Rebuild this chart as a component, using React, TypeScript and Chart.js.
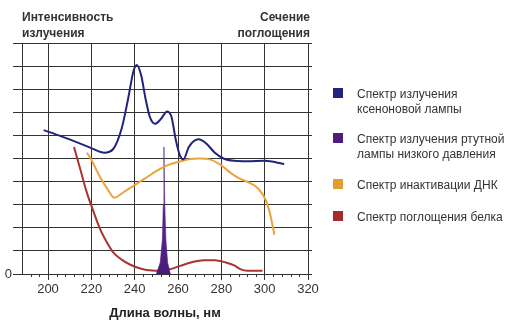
import React, { useEffect, useRef } from "react";
import { Chart, registerables } from "chart.js";

Chart.register(...registerables);

// Xenon lamp emission spectrum
const xenonX = [198, 205, 212, 220, 226, 230, 234, 237, 239.5, 241, 243, 245, 247, 249.5, 252, 255, 257, 259, 261, 262.5, 265, 269.5, 273, 277, 281, 286, 292, 300, 309];
const xenonY = [6.23, 6.0, 5.75, 5.45, 5.25, 5.4, 6.3, 7.6, 8.8, 9.05, 8.6, 7.6, 6.8, 6.5, 6.7, 7.03, 6.8, 5.8, 5.1, 4.96, 5.5, 5.83, 5.65, 5.25, 5.0, 4.9, 4.88, 4.9, 4.76];

// Low pressure mercury lamp emission line
const mercuryX = [250, 251.8, 252.8, 253.2, 253.5, 253.9, 254.4, 255.2, 256.5];
const mercuryY = [0, 0.5, 1.5, 3, 5.5, 3, 1.5, 0.5, 0];

// DNA inactivation spectrum
const dnaX = [218, 220, 224, 228, 230.5, 235, 240, 245, 250, 255, 260, 265, 270, 275, 280, 284, 288, 293, 297, 300.5, 302.5, 304.5];
const dnaY = [5.25, 4.95, 4.2, 3.6, 3.3, 3.55, 3.85, 4.15, 4.45, 4.7, 4.85, 4.97, 5.0, 4.95, 4.7, 4.4, 4.15, 3.95, 3.7, 3.2, 2.6, 1.7];

// Protein absorption spectrum
const proteinX = [212, 215, 218, 221, 224, 227, 230, 234, 238, 243, 248, 252, 256, 261, 266, 272, 277, 282, 286, 289, 292, 299];
const proteinY = [5.5, 4.5, 3.5, 2.7, 1.95, 1.4, 0.95, 0.62, 0.4, 0.23, 0.15, 0.14, 0.2, 0.35, 0.5, 0.6, 0.6, 0.5, 0.37, 0.2, 0.14, 0.14];

const xTickValues = [200, 220, 240, 260, 280, 300, 320];
const xMinorTicks = [192, 196, 204, 208, 212, 216, 224, 228, 232, 236, 244, 248, 252, 256, 264, 268, 272, 276, 284, 288, 292, 296, 304, 308, 312, 316];

const legendItems = [
  { color: "#22237a", lines: ["Спектр излучения", "ксеноновой лампы"] },
  { color: "#4f1c7e", lines: ["Спектр излучения ртутной", "лампы низкого давления"] },
  { color: "#e39c32", lines: ["Спектр инактивации ДНК"] },
  { color: "#a62c2c", lines: ["Спектр поглощения белка"] },
];

const FONT = "'Liberation Sans', Arial, sans-serif";

function pts(xs: number[], ys: number[]) {
  return xs.map((x, i) => ({ x, y: ys[i] }));
}

export default function App() {
  const ref = useRef<HTMLCanvasElement | null>(null);

  useEffect(() => {
    if (!ref.current) return;
    const minorPlugin = {
      id: "minorTicks",
      afterDraw(chart: any) {
        const { ctx, scales } = chart;
        const x = scales.x;
        const yb = scales.y.getPixelForValue(0);
        ctx.save();
        ctx.strokeStyle = "#333";
        ctx.lineWidth = 1;
        ctx.beginPath();
        xMinorTicks.forEach((v) => {
          const px = Math.round(x.getPixelForValue(v)) + 0.5;
          ctx.moveTo(px, yb);
          ctx.lineTo(px, yb + 3);
        });
        ctx.stroke();
        ctx.restore();
      },
    };

    const chart = new Chart(ref.current, {
      type: "line",
      data: {
        datasets: [
          {
            label: "xenon",
            data: pts(xenonX, xenonY),
            borderColor: "#22237a",
            borderWidth: 2,
            pointRadius: 0,
            cubicInterpolationMode: "monotone",
            order: 1,
          },
          {
            label: "dna",
            data: pts(dnaX, dnaY),
            borderColor: "#e8a53c",
            borderWidth: 2,
            pointRadius: 0,
            cubicInterpolationMode: "monotone",
            order: 2,
          },
          {
            label: "mercury",
            data: pts(mercuryX, mercuryY),
            borderColor: "rgba(80,30,130,0.6)",
            borderWidth: 1,
            pointRadius: 0,
            tension: 0,
            fill: "origin",
            backgroundColor: (c: any) => {
              const chart = c.chart;
              const { scales, chartArea } = chart;
              if (!chartArea || !scales.y) return "#4f1c7e";
              const g = chart.ctx.createLinearGradient(0, scales.y.getPixelForValue(0), 0, scales.y.getPixelForValue(5.5));
              g.addColorStop(0, "#4a1a7c");
              g.addColorStop(0.55, "#5a2a8c");
              g.addColorStop(1, "rgba(190,180,210,0.5)");
              return g;
            },
            order: 3,
          },
          {
            label: "protein",
            data: pts(proteinX, proteinY),
            borderColor: "#a83434",
            borderWidth: 2,
            pointRadius: 0,
            cubicInterpolationMode: "monotone",
            order: 4,
          },
        ],
      },
      options: {
        animation: false,
        responsive: false,
        events: [],
        layout: { padding: { left: 0, top: 43, right: 207, bottom: 0 } },
        plugins: { legend: { display: false }, tooltip: { enabled: false } },
        scales: {
          x: {
            type: "linear",
            min: 188,
            max: 320,
            afterBuildTicks: (axis: any) => {
              axis.ticks = xTickValues.map((v) => ({ value: v }));
            },
            afterFit: (axis: any) => {
              axis.height = 55;
            },
            grid: { color: "#333", lineWidth: 1, tickLength: 6, drawTicks: true },
            border: { display: false },
            ticks: {
              color: "#333",
              font: { family: FONT, size: 13 },
              padding: 2,
              maxRotation: 0,
              autoSkip: false,
            },
            title: {
              display: true,
              text: "Длина волны, нм",
              color: "#222",
              font: { family: FONT, size: 13, weight: "bold" },
              padding: { top: 4, bottom: 8 },
            },
          },
          y: {
            position: "left",
            min: 0,
            max: 10,
            afterFit: (axis: any) => {
              axis.width = 22;
            },
            grid: { color: "#333", lineWidth: 1, tickLength: 9 },
            border: { display: true, color: "#333" },
            ticks: {
              stepSize: 1,
              color: "#333",
              font: { family: FONT, size: 13 },
              padding: 1,
              callback: (v: any) => (v === 0 ? "0" : ""),
            },
          },
          y2: {
            position: "right",
            min: 0,
            max: 10,
            afterFit: (axis: any) => {
              axis.width = 5;
            },
            grid: { drawOnChartArea: false, color: "#333", tickLength: 4 },
            border: { display: false },
            ticks: { stepSize: 1, callback: () => "", padding: 0 },
          },
        },
      },
      plugins: [minorPlugin],
    } as any);
    return () => chart.destroy();
  }, []);

  const textStyle: React.CSSProperties = {
    position: "absolute",
    fontFamily: FONT,
    fontWeight: "bold",
    fontSize: 12,
    lineHeight: "16px",
    color: "#333",
    whiteSpace: "nowrap",
  };

  const legendTops = [87, 132, 178, 210];

  return (
    <div style={{ position: "absolute", left: 0, top: 0, width: 520, height: 329, background: "#fff" }}>
      <canvas ref={ref} width={520} height={329} style={{ display: "block", position: "absolute", left: 0, top: 0 }} />
      <div style={{ ...textStyle, left: 22, top: 9 }}>
        Интенсивность
        <br />
        излучения
      </div>
      <div style={{ ...textStyle, right: 520 - 310, top: 9, textAlign: "right" }}>
        Сечение
        <br />
        поглощения
      </div>
      {legendItems.map((item, i) => (
        <div key={i} style={{ position: "absolute", left: 333, top: legendTops[i], fontFamily: FONT, fontSize: 12, color: "#333" }}>
          <div style={{ position: "absolute", left: 0, top: 1, width: 10, height: 10, background: item.color }} />
          <div style={{ position: "absolute", left: 24, top: 0, lineHeight: "15px", whiteSpace: "nowrap" }}>
            {item.lines.map((l, j) => (
              <div key={j}>{l}</div>
            ))}
          </div>
        </div>
      ))}
    </div>
  );
}
